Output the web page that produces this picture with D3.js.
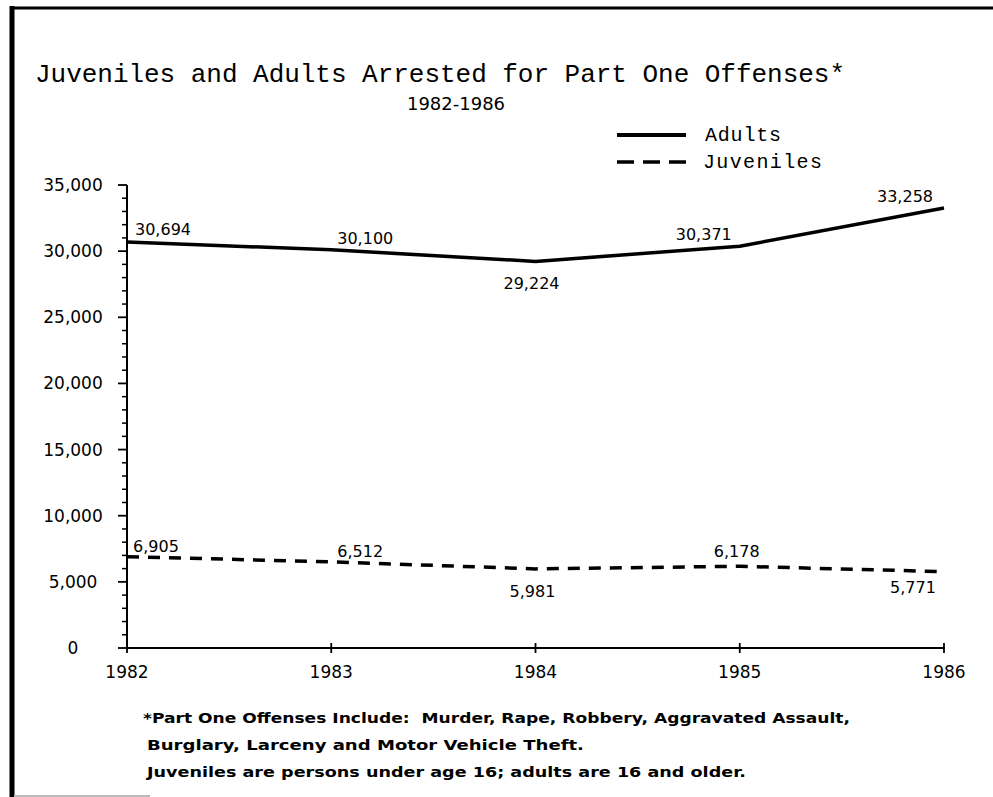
<!DOCTYPE html>
<html>
<head>
<meta charset="utf-8">
<script src="https://cdn.jsdelivr.net/npm/d3@7"></script>
<style>
  html, body { margin: 0; padding: 0; background: #fff; }
  svg { display: block; }
  text { white-space: pre; }
  .mono { font-family: "Liberation Mono", "DejaVu Sans Mono", monospace; }
  .sans { font-family: "DejaVu Sans", "Noto Sans", sans-serif; }
</style>
</head>
<body>
<svg id="chart" width="993" height="797"></svg>
<script>
// Arrests for Part One offenses, by year
const years = [1982, 1983, 1984, 1985, 1986];
const adults = [30694, 30100, 29224, 30371, 33258];
const juveniles = [6905, 6512, 5981, 6178, 5771];
const yTickValues = [0, 5000, 10000, 15000, 20000, 25000, 30000, 35000];
const titleText = "Juveniles and Adults Arrested for Part One Offenses*";
const subtitleText = "1982-1986";
const footnotes = [
  "*Part One Offenses Include:  Murder, Rape, Robbery, Aggravated Assault,",
  "Burglary, Larceny and Motor Vehicle Theft.",
  "Juveniles are persons under age 16; adults are 16 and older."
];

// Where each value label sits relative to its point (layout only)
const adultLabelNudge = [
  { anchor: "start", dx: 8, dy: -7 },
  { anchor: "middle", dx: 34, dy: -6 },
  { anchor: "middle", dx: -4, dy: 28 },
  { anchor: "middle", dx: -36, dy: -6 },
  { anchor: "middle", dx: -39, dy: -6 }
];
const juvenileLabelNudge = [
  { anchor: "start", dx: 6, dy: -5 },
  { anchor: "middle", dx: 29, dy: -5 },
  { anchor: "middle", dx: -3, dy: 28 },
  { anchor: "middle", dx: -3, dy: -9 },
  { anchor: "middle", dx: -31, dy: 21 }
];

const svg = d3.select("#chart");
const fmt = d3.format(",");

// Page frame: heavy left and top rules
svg.append("line").attr("x1", 12).attr("x2", 12).attr("y1", 6).attr("y2", 797)
  .attr("stroke", "#000").attr("stroke-width", 5);
svg.append("line").attr("x1", 10).attr("x2", 993).attr("y1", 8).attr("y2", 8)
  .attr("stroke", "#000").attr("stroke-width", 3);
svg.append("line").attr("x1", 14).attr("x2", 150).attr("y1", 796).attr("y2", 796)
  .attr("stroke", "#bbb").attr("stroke-width", 2);

// Titles
svg.append("text").attr("class", "mono")
  .attr("x", 35).attr("y", 82)
  .attr("font-size", 26).attr("fill", "#000")
  .attr("textLength", 810).attr("lengthAdjust", "spacing")
  .text(titleText);
svg.append("text").attr("class", "sans")
  .attr("x", 456).attr("y", 110).attr("text-anchor", "middle")
  .attr("font-size", 18).attr("fill", "#000")
  .text(subtitleText);

// Scales
const x = d3.scaleLinear().domain([1982, 1986]).range([127, 944]);
const y = d3.scaleLinear().domain([0, 35000]).range([648, 185]);

// Y axis with minor ticks every 1,000
const g = svg.append("g");
g.append("line").attr("x1", 127).attr("x2", 127).attr("y1", y(35000)).attr("y2", y(0))
  .attr("stroke", "#000").attr("stroke-width", 2);
const minor = d3.range(0, 35001, 1000).filter(v => v % 5000 !== 0);
g.selectAll(".minor").data(minor).join("line")
  .attr("x1", 122).attr("x2", 127)
  .attr("y1", d => y(d)).attr("y2", d => y(d))
  .attr("stroke", "#000").attr("stroke-width", 1.5);
g.selectAll(".major").data(yTickValues).join("line")
  .attr("x1", 118).attr("x2", 127)
  .attr("y1", d => y(d)).attr("y2", d => y(d))
  .attr("stroke", "#000").attr("stroke-width", 1.8);
g.selectAll(".ylab").data(yTickValues).join("text")
  .attr("class", "sans")
  .attr("x", 73).attr("y", d => y(d) + 6)
  .attr("text-anchor", "middle").attr("font-size", 17).attr("fill", "#000")
  .text(d => fmt(d));

// X axis
g.append("line").attr("x1", x(1982)).attr("x2", x(1986)).attr("y1", y(0)).attr("y2", y(0))
  .attr("stroke", "#000").attr("stroke-width", 2);
g.selectAll(".xtick").data(years).join("line")
  .attr("x1", d => x(d)).attr("x2", d => x(d))
  .attr("y1", y(0) - 5).attr("y2", y(0) + 5)
  .attr("stroke", "#000").attr("stroke-width", 1.8);
g.selectAll(".xlab").data(years).join("text")
  .attr("class", "sans")
  .attr("x", d => x(d)).attr("y", 678)
  .attr("text-anchor", "middle").attr("font-size", 17).attr("fill", "#000")
  .text(d => d);

// Series lines
const line = d3.line().x((d, i) => x(years[i])).y(d => y(d));
svg.append("path").datum(adults).attr("d", line)
  .attr("fill", "none").attr("stroke", "#000").attr("stroke-width", 3.5)
  .attr("stroke-linejoin", "round");
svg.append("path").datum(juveniles).attr("d", line)
  .attr("fill", "none").attr("stroke", "#000").attr("stroke-width", 3.5)
  .attr("stroke-dasharray", "12,9");

// Value labels
function labels(values, nudge) {
  svg.append("g").selectAll("text").data(values).join("text")
    .attr("class", "sans")
    .attr("x", (d, i) => x(years[i]) + nudge[i].dx)
    .attr("y", d => y(d))
    .attr("dy", (d, i) => nudge[i].dy)
    .attr("text-anchor", (d, i) => nudge[i].anchor)
    .attr("font-size", 16).attr("fill", "#000")
    .text(d => fmt(d));
}
labels(adults, adultLabelNudge);
labels(juveniles, juvenileLabelNudge);

// Legend
const legend = svg.append("g");
legend.append("line").attr("x1", 617).attr("x2", 686).attr("y1", 135).attr("y2", 135)
  .attr("stroke", "#000").attr("stroke-width", 4);
legend.append("line").attr("x1", 617).attr("x2", 686).attr("y1", 162).attr("y2", 162)
  .attr("stroke", "#000").attr("stroke-width", 3.5).attr("stroke-dasharray", "17,9");
legend.append("text").attr("class", "mono").attr("x", 705).attr("y", 141)
  .attr("font-size", 20).attr("fill", "#000")
  .attr("textLength", 76).attr("lengthAdjust", "spacing").text("Adults");
legend.append("text").attr("class", "mono").attr("x", 703).attr("y", 168)
  .attr("font-size", 20).attr("fill", "#000")
  .attr("textLength", 119).attr("lengthAdjust", "spacing").text("Juveniles");

// Footnotes
const noteX = [143, 147, 147];
const noteW = [707, 437, 599];
svg.append("g").selectAll("text").data(footnotes).join("text")
  .attr("class", "sans")
  .attr("x", (d, i) => noteX[i]).attr("y", (d, i) => 723 + i * 27)
  .attr("font-size", 13.5).attr("font-weight", "bold").attr("fill", "#000")
  .attr("textLength", (d, i) => noteW[i]).attr("lengthAdjust", "spacingAndGlyphs")
  .text(d => d);
</script>
</body>
</html>
